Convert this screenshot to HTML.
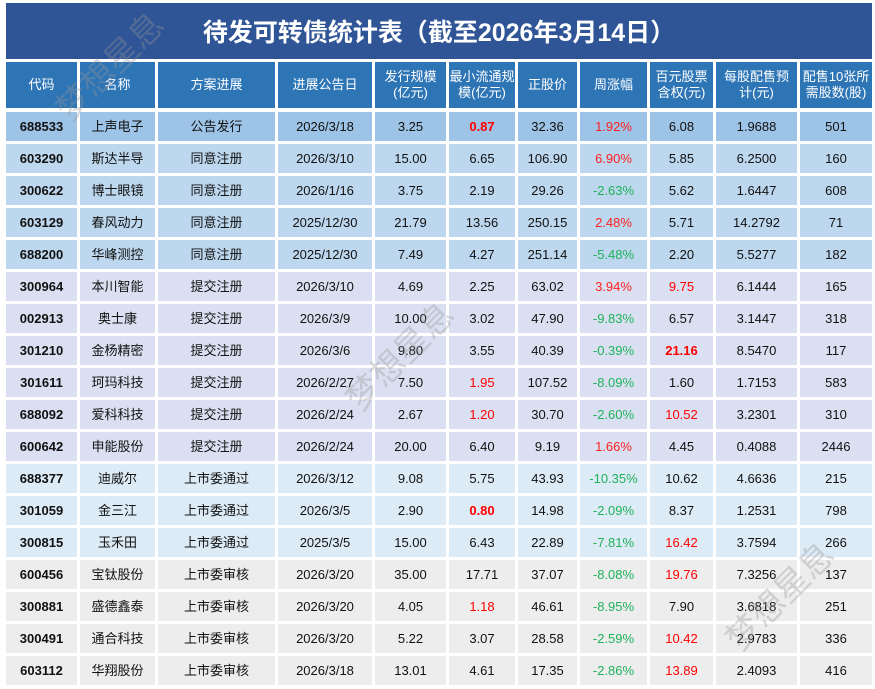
<!DOCTYPE html>
<html><head><meta charset="utf-8"><style>
body{margin:0;width:875px;height:689px;background:#fff;position:relative;overflow:hidden;font-family:"Liberation Sans","Noto Sans CJK SC",sans-serif;}
.c{position:absolute;display:flex;align-items:center;justify-content:center;text-align:center;font-size:13px;color:#111;line-height:16px;}
.h{color:#fff;font-size:13px;background:#2e75b6;}
#title{position:absolute;left:6px;top:3px;width:866px;height:56px;background:#2f5597;color:#fff;font-size:25px;font-weight:bold;display:flex;align-items:center;justify-content:center;}
.wm{position:absolute;color:rgba(150,150,150,0.35);font-size:34px;transform:rotate(-45deg);pointer-events:none;}
</style></head><body>
<div id="title">待发可转债统计表（截至2026年3月14日）</div>
<div id="grid"></div>
<div class="wm" style="left:40px;top:40px;">梦想星息</div>
<div class="wm" style="left:330px;top:330px;">梦想星息</div>
<div class="wm" style="left:710px;top:570px;">梦想星息</div>
<script>
const headers=["代码","名称","方案进展","进展公告日","发行规模<br>(亿元)","最小流通规<br>模(亿元)","正股价","周涨幅","百元股票<br>含权(元)","每股配售预<br>计(元)","配售10张所<br>需股数(股)"];
const codes=["688533","603290","300622","603129","688200","300964","002913","301210","301611","688092","600642","688377","301059","300815","600456","300881","300491","603112"];
const names=["上声电子","斯达半导","博士眼镜","春风动力","华峰测控","本川智能","奥士康","金杨精密","珂玛科技","爱科科技","申能股份","迪威尔","金三江","玉禾田","宝钛股份","盛德鑫泰","通合科技","华翔股份"];
const stages=["公告发行","同意注册","同意注册","同意注册","同意注册","提交注册","提交注册","提交注册","提交注册","提交注册","提交注册","上市委通过","上市委通过","上市委通过","上市委审核","上市委审核","上市委审核","上市委审核"];
const dates=["2026/3/18","2026/3/10","2026/1/16","2025/12/30","2025/12/30","2026/3/10","2026/3/9","2026/3/6","2026/2/27","2026/2/24","2026/2/24","2026/3/12","2026/3/5","2025/3/5","2026/3/20","2026/3/20","2026/3/20","2026/3/18"];
const scale=["3.25","15.00","3.75","21.79","7.49","4.69","10.00","9.80","7.50","2.67","20.00","9.08","2.90","15.00","35.00","4.05","5.22","13.01"];
const minFloat=["0.87","6.65","2.19","13.56","4.27","2.25","3.02","3.55","1.95","1.20","6.40","5.75","0.80","6.43","17.71","1.18","3.07","4.61"];
const price=["32.36","106.90","29.26","250.15","251.14","63.02","47.90","40.39","107.52","30.70","9.19","43.93","14.98","22.89","37.07","46.61","28.58","17.35"];
const weekChg=["1.92%","6.90%","-2.63%","2.48%","-5.48%","3.94%","-9.83%","-0.39%","-8.09%","-2.60%","1.66%","-10.35%","-2.09%","-7.81%","-8.08%","-8.95%","-2.59%","-2.86%"];
const rights=["6.08","5.85","5.62","5.71","2.20","9.75","6.57","21.16","1.60","10.52","4.45","10.62","8.37","16.42","19.76","7.90","10.42","13.89"];
const perShare=["1.9688","6.2500","1.6447","14.2792","5.5277","6.1444","3.1447","8.5470","1.7153","3.2301","0.4088","4.6636","1.2531","3.7594","7.3256","3.6818","2.9783","2.4093"];
const sharesNeeded=["501","160","608","71","182","165","318","117","583","310","2446","215","798","266","137","251","336","416"];
const minFloatRed=[2,0,0,0,0,0,0,0,1,1,0,0,2,0,0,1,0,0];
const rightsRed=[0,0,0,0,0,1,0,2,0,1,0,0,0,1,1,0,1,1];
const L=[6,80,158,278,375,449,518,580,650,716,800],R=[77,155,275,372,446,515,577,647,713,797,872];
const colNames=["code","name","stage","date","issue-scale","min-float","stock-price","weekly-change","rights-per-100","allotment-per-share","shares-for-10"];
const g=document.getElementById('grid');
function cell(x,w,y,h,html,bg,cls){const d=document.createElement('div');d.className='c '+(cls||'');d.style.left=x+'px';d.style.width=w+'px';d.style.top=y+'px';d.style.height=h+'px';if(bg)d.style.background=bg;d.innerHTML=html;g.appendChild(d);return d;}
headers.forEach((t,j)=>{const d=cell(L[j],R[j]-L[j],62,46,t,null,'h');

});
function rowBg(i){if(i==0)return'#9dc3e6';if(i<=4)return'#bdd7ee';if(i<=10)return'#dae0f2';if(i<=13)return'#ddebf7';return'#ededed';}
codes.forEach((c,i)=>{
  const vals=[c,names[i],stages[i],dates[i],scale[i],minFloat[i],price[i],weekChg[i],rights[i],perShare[i],sharesNeeded[i]];
  const y=112+32*i;
  vals.forEach((v,j)=>{const d=cell(L[j],R[j]-L[j],y,29,v,rowBg(i));
    
    
    if(j==0)d.style.fontWeight='bold';
    if(j==5&&minFloatRed[i]){d.style.color='#ff0000';if(minFloatRed[i]==2)d.style.fontWeight='bold';}
    if(j==8&&rightsRed[i]){d.style.color='#ff0000';if(rightsRed[i]==2)d.style.fontWeight='bold';}
    if(j==7)d.style.color=v.startsWith('-')?'#1fb25a':'#ff2020';
  });
});
</script>
</body></html>
